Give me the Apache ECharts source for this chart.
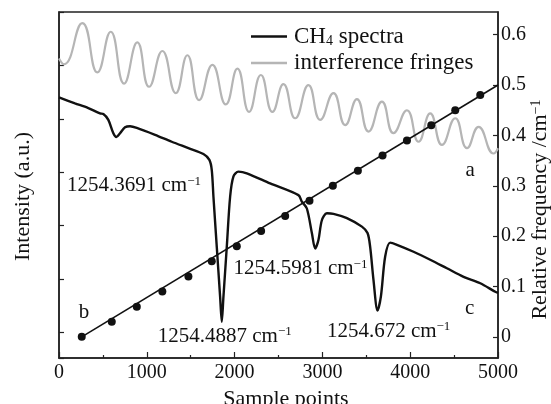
<!DOCTYPE html>
<html>
<head>
<meta charset="utf-8">
<script src="https://cdn.jsdelivr.net/npm/echarts@6/dist/echarts.min.js"></script>
<style>html,body{margin:0;padding:0;background:#fff}#c{width:551px;height:404px}</style>
</head>
<body>
<div id="c"></div>
<script>
// ---- data ----
const ch4Samples = [0,182,334,467,505,562,619,653,695,752,809,886,1094,1284,1474,1645,1713,1740,1759,1797,1835,1854,1873,1911,1949,1987,2043,2139,2405,2727,2766,2823,2880,2918,2955,2994,3051,3126,3279,3450,3514,3544,3582,3628,3666,3715,3772,3849,4038,4228,4418,4608,4798,4969,5000];
const ch4Intensity = [4.40,4.29,4.20,4.10,4.09,3.98,3.73,3.66,3.73,3.84,3.86,3.83,3.70,3.57,3.45,3.34,3.23,3.04,2.54,1.60,0.67,0.20,0.67,1.60,2.54,2.92,3.01,2.98,2.79,2.57,2.45,2.32,1.86,1.57,1.73,2.10,2.23,2.22,2.14,1.98,1.86,1.60,0.98,0.41,0.67,1.42,1.68,1.64,1.51,1.36,1.20,1.04,0.92,0.76,0.74];

const fringeSamples = [0,57,266,437,589,741,892,1026,1177,1330,1462,1596,1747,1900,2032,2165,2299,2431,2556,2690,2841,2975,3126,3260,3393,3525,3678,3810,3963,4095,4228,4362,4513,4647,4779,4950,5000];
const fringeIntensity = [5.13,5.02,5.79,4.87,5.63,4.66,5.43,4.60,5.27,4.48,5.19,4.35,5.01,4.27,4.94,4.13,4.82,4.13,4.65,4.01,4.63,3.98,4.48,3.88,4.37,3.76,4.32,3.73,4.16,3.57,4.10,3.51,4.01,3.45,3.85,3.35,3.45];

const peakSamples = [259,601,886,1177,1474,1740,2025,2302,2576,2853,3119,3404,3685,3963,4240,4513,4798];
const peakFrequency = [0,0.03,0.06,0.09,0.12,0.15,0.18,0.21,0.24,0.27,0.30,0.33,0.36,0.39,0.42,0.45,0.48];

const fitSamples = [259,5000];
const fitFrequency = [0,0.5];

const xTicks = [0,1000,2000,3000,4000,5000];
const freqTicks = [0,0.1,0.2,0.3,0.4,0.5,0.6];

const lineNames = ['CH4 spectra','interference fringes'];
const annoTexts = ['1254.3691','1254.4887','1254.5981','1254.672'];
const annoSamples = [91,1125,1987,3051];
const annoFreq = [0.300,0.001,0.135,0.011];
const letterTexts = ['a','b','c'];
const letterSamples = [4684,285,4678];
const letterFreq = [0.331,0.049,0.057];

// ---- chart ----
const FONT = '"Liberation Serif","Times New Roman",serif';
const zip = (a,b)=>a.map((v,i)=>[v,b[i]]);
const chart = echarts.init(document.getElementById('c'), null, {renderer:'canvas'});
const axisColor = '#222';

chart.setOption({
  animation:false,
  backgroundColor:'#fff',
  grid:{left:59,right:53,top:12,bottom:46,show:true,borderColor:axisColor,borderWidth:1.5,
        backgroundColor:'transparent',containLabel:false,outerBoundsMode:'none'},
  legend:{
    data:lineNames,
    orient:'vertical',
    left:246, top:20,
    icon:'rect',
    itemWidth:36, itemHeight:2.5, itemGap:3,
    formatter:function(n){ return n==='CH4 spectra' ? '{a|CH}{b|4}{a| spectra}' : '{a|'+n+'}'; },
    textStyle:{color:'#111',fontFamily:FONT,fontSize:23,padding:[0,0,0,2],
      rich:{a:{fontFamily:FONT,fontSize:23,lineHeight:24,color:'#111'},
            b:{fontFamily:FONT,fontSize:14,lineHeight:10,verticalAlign:'bottom',color:'#111'}}}
  },
  xAxis:{
    type:'value', min:xTicks[0], max:xTicks[xTicks.length-1], interval:1000,
    name:'Sample points', nameLocation:'middle', nameGap:24,
    nameTextStyle:{fontFamily:FONT,fontSize:22,color:'#111',padding:[0,0,0,15]},
    axisLine:{show:true,onZero:false,lineStyle:{color:axisColor,width:1.5}},
    axisTick:{show:true,inside:true,length:6,lineStyle:{color:axisColor,width:1.2}},
    minorTick:{show:true,splitNumber:2,length:3,lineStyle:{color:axisColor,width:1.2}},
    axisLabel:{fontFamily:FONT,fontSize:20,color:'#111',margin:5,formatter:function(v){return String(v);}},
    splitLine:{show:false}
  },
  yAxis:[{
    type:'value', min:-0.48, max:6.0, position:'left',
    name:'Intensity (a.u.)', nameLocation:'middle', nameGap:25,
    nameTextStyle:{fontFamily:FONT,fontSize:22,color:'#111',padding:[0,23,0,0]},
    axisLine:{show:true,onZero:false,lineStyle:{color:axisColor,width:1.5}},
    axisTick:{show:true,inside:true,length:5,lineStyle:{color:axisColor,width:1.2}},
    axisLabel:{show:false},
    splitLine:{show:false}
  },{
    type:'value', min:-0.042, max:0.645, position:'right',
    name:'Relative frequency /cm{s|−1}', nameLocation:'middle', nameGap:31, nameMoveOverlap:false,
    nameTextStyle:{fontFamily:FONT,fontSize:22,color:'#111',padding:[0,49,0,0],
      rich:{s:{fontFamily:FONT,fontSize:14,lineHeight:14,verticalAlign:'top',color:'#111'}}},
    axisLine:{show:true,onZero:false,lineStyle:{color:axisColor,width:1.5}},
    axisTick:{show:true,inside:true,length:5,lineStyle:{color:axisColor,width:1.2}},
    axisLabel:{fontFamily:FONT,fontSize:20,color:'#111',margin:3,showMinLabel:false,showMaxLabel:false,
      formatter:function(v){ return freqTicks.some(t=>Math.abs(t-v)<1e-9) ? String(+v.toFixed(1)) : ''; }},
    splitLine:{show:false}
  }],
  series:[
    {name:'interference fringes',type:'line',yAxisIndex:0,data:zip(fringeSamples,fringeIntensity),
     smooth:0.5,symbol:'none',lineStyle:{color:'#b5b5b5',width:2.2},itemStyle:{color:'#b5b5b5'},z:2},
    {name:'CH4 spectra',type:'line',yAxisIndex:0,data:zip(ch4Samples,ch4Intensity),
     smooth:0.3,symbol:'none',lineStyle:{color:'#111',width:2.4},itemStyle:{color:'#111'},z:3},
    {name:'fit',type:'line',yAxisIndex:1,data:zip(fitSamples,fitFrequency),
     symbol:'none',lineStyle:{color:'#111',width:1.6},itemStyle:{color:'#111'},z:4},
    {name:'peaks',type:'scatter',yAxisIndex:1,data:zip(peakSamples,peakFrequency),
     symbol:'circle',symbolSize:8,itemStyle:{color:'#111',opacity:1},z:5}
  ]
});

// ---- annotations anchored in data coordinates ----
const g = [];
annoTexts.forEach((t,i)=>{
  const p = chart.convertToPixel({xAxisIndex:0,yAxisIndex:1},[annoSamples[i],annoFreq[i]]);
  g.push({type:'text',x:p[0],y:p[1],z:10,style:{
    text:'{a|'+t+' cm}{s|−1}',
    textAlign:'left',textVerticalAlign:'middle',fill:'#111',
    rich:{a:{fontFamily:FONT,fontSize:21,lineHeight:22,fill:'#111',color:'#111'},
          s:{fontFamily:FONT,fontSize:13,lineHeight:12,verticalAlign:'top',fill:'#111',color:'#111'}}
  }});
});
letterTexts.forEach((t,i)=>{
  const p = chart.convertToPixel({xAxisIndex:0,yAxisIndex:1},[letterSamples[i],letterFreq[i]]);
  g.push({type:'text',x:p[0],y:p[1],z:10,style:{text:t,font:'21px '+FONT,fill:'#111',textAlign:'center',textVerticalAlign:'middle'}});
});
chart.setOption({graphic:g});
</script>
</body>
</html>
